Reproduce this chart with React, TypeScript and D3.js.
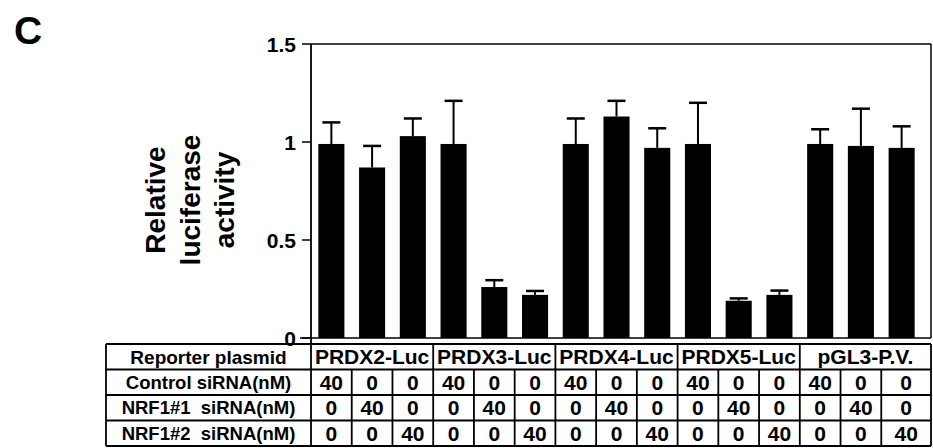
import React from "react";
import * as d3 from "d3";

const plasmids = ["PRDX2-Luc", "PRDX3-Luc", "PRDX4-Luc", "PRDX5-Luc", "pGL3-P.V."];
const means = [0.99, 0.87, 1.03, 0.99, 0.26, 0.22, 0.99, 1.13, 0.97, 0.99, 0.19, 0.22, 0.99, 0.98, 0.97];
const errors = [0.11, 0.11, 0.09, 0.22, 0.035, 0.02, 0.13, 0.08, 0.1, 0.21, 0.012, 0.022, 0.075, 0.19, 0.11];
const yTicks = [0, 0.5, 1, 1.5];
const rowLabels = ["Control siRNA(nM)", "NRF1#1  siRNA(nM)", "NRF1#2  siRNA(nM)"];
const controlRow = ["40", "0", "0", "40", "0", "0", "40", "0", "0", "40", "0", "0", "40", "0", "0"];
const nrf1Row = ["0", "40", "0", "0", "40", "0", "0", "40", "0", "0", "40", "0", "0", "40", "0"];
const nrf2Row = ["0", "0", "40", "0", "0", "40", "0", "0", "40", "0", "0", "40", "0", "0", "40"];
const tableRows = [controlRow, nrf1Row, nrf2Row];

const FONT = "'Liberation Sans', Arial, Helvetica, sans-serif";

export default function App() {
  const W = 933;
  const H = 448;
  const left = 311;
  const right = 931;
  const top = 44;
  const bottom = 338;
  const idx = means.map((_, i) => i);

  const y = d3.scaleLinear().domain([0, 1.5]).range([bottom, top]);
  const x = d3.scaleBand<number>().domain(idx).range([left, 922]).paddingInner(0.36).paddingOuter(0.18);
  const col = d3.scaleBand<number>().domain(idx).range([left, 922]);

  const tableLeft = 106;
  const rowY = [344, 369.5, 395, 420.5, 446];
  const colEdge = (i: number) => (i >= 15 ? right : (col(i) as number));

  const fmt = (v: number) => (v === 0 ? "0" : v === 1 ? "1" : d3.format(".1f")(v));

  return (
    <div style={{ position: "absolute", left: 0, top: 0 }}>
      <svg width={W} height={H} style={{ display: "block", background: "#fff" }} fontFamily={FONT}>
        <text x={14} y={44} fontSize={39} fontWeight="bold" fill="#000">C</text>

        {/* y title */}
        {["Relative", "luciferase", "activity"].map((t, i) => (
          <text
            key={t}
            transform={`translate(${165 + i * 34.5},200) rotate(-90)`}
            textAnchor="middle"
            fontSize={28}
            fontWeight="bold"
            fill="#000"
          >
            {t}
          </text>
        ))}

        {/* frame */}
        <line x1={left} x2={right} y1={top} y2={top} stroke="#000" strokeWidth={1.5} />
        <line x1={right} x2={right} y1={top} y2={bottom} stroke="#000" strokeWidth={1.5} />
        <line x1={left} x2={left} y1={top} y2={rowY[0]} stroke="#000" strokeWidth={1.8} />
        <line x1={300} x2={right} y1={bottom} y2={bottom} stroke="#000" strokeWidth={1.5} />

        {/* y ticks */}
        {yTicks.map((t) => (
          <g key={t}>
            <line x1={302} x2={left} y1={y(t)} y2={y(t)} stroke="#000" strokeWidth={1.5} />
            <text x={296} y={y(t)} dy="0.36em" textAnchor="end" fontSize={21} fontWeight="bold" fill="#000">
              {fmt(t)}
            </text>
          </g>
        ))}

        {/* bars */}
        {means.map((m, i) => {
          const bx = x(i) as number;
          const bw = x.bandwidth();
          const cx = bx + bw / 2;
          const ty = y(m + errors[i]);
          return (
            <g key={i}>
              <rect x={bx} y={y(m)} width={bw} height={bottom - y(m)} fill="#000" />
              <line x1={cx} x2={cx} y1={y(m)} y2={ty} stroke="#000" strokeWidth={2} />
              <line x1={cx - 9} x2={cx + 9} y1={ty} y2={ty} stroke="#000" strokeWidth={2.5} />
            </g>
          );
        })}

        {/* table */}
        <g stroke="#000" strokeWidth={1.8}>
          {rowY.map((ry, i) => (
            <line key={"h" + i} x1={tableLeft} x2={right} y1={ry} y2={ry} />
          ))}
          <line x1={tableLeft} x2={tableLeft} y1={rowY[0]} y2={rowY[4]} />
          <line x1={left} x2={left} y1={rowY[0]} y2={rowY[4]} />
          <line x1={right} x2={right} y1={rowY[0]} y2={rowY[4]} />
          {idx.slice(1).map((i) => (
            <line key={"v" + i} x1={colEdge(i)} x2={colEdge(i)} y1={i % 3 === 0 ? rowY[0] : rowY[1]} y2={rowY[4]} />
          ))}
        </g>

        {/* header row */}
        <text x={(tableLeft + left) / 2} y={(rowY[0] + rowY[1]) / 2} dy="0.36em" textAnchor="middle" fontSize={19} fontWeight="bold" fill="#000">
          Reporter plasmid
        </text>
        {plasmids.map((p, g) => {
          const x0 = colEdge(g * 3);
          const x1 = colEdge(g * 3 + 3);
          return (
            <text key={p} x={(x0 + x1) / 2} y={(rowY[0] + rowY[1]) / 2} dy="0.36em" textAnchor="middle" fontSize={21} fontWeight="bold" fill="#000">
              {p}
            </text>
          );
        })}

        {/* data rows */}
        {tableRows.map((row, r) => (
          <g key={"r" + r}>
            <text
              x={(tableLeft + left) / 2}
              y={(rowY[r + 1] + rowY[r + 2]) / 2}
              dy="0.36em"
              textAnchor="middle"
              fontSize={18.5}
              fontWeight="bold"
              fill="#000"
              style={{ whiteSpace: "pre" }}
            >
              {rowLabels[r]}
            </text>
            {row.map((v, i) => (
              <text
                key={i}
                x={(colEdge(i) + colEdge(i + 1)) / 2}
                y={(rowY[r + 1] + rowY[r + 2]) / 2}
                dy="0.36em"
                textAnchor="middle"
                fontSize={21}
                fontWeight="bold"
                fill="#000"
              >
                {v}
              </text>
            ))}
          </g>
        ))}
      </svg>
    </div>
  );
}
